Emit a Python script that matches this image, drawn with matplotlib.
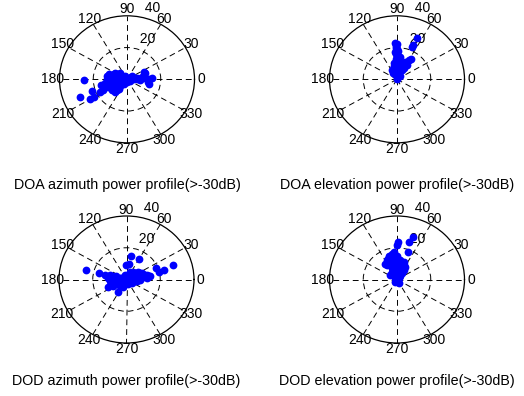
import numpy as np
import matplotlib.pyplot as plt

plt.rcParams['font.family'] = ['Liberation Sans', 'DejaVu Sans']

# =========================================================
# DATA (angle in degrees, radius)
# =========================================================

doa_az_theta = [181, 201.7, 199.3, 209.2, 209.5, 206, 205, 192.8, 4, 5, 23, 21, 2, 346.6, 353, 8, 355,
                159, 153, 174, 180, 189, 197, 212, 229, 230, 207, 162, 180, 187, 236, 270, 333, 0, 45,
                34, 117, 9, 135, 204, 218,
                170.5, 189.5, 168.7, 180, 191.3, 201.8, 166, 180, 194, 206.6, 216.9, 161.6, 198.4,
                213.7, 229.4, 153.4, 180, 225, 153.4, 206.6, 270, 14, 162.3, 150.3, 197.1,
                11.3, 4, 9.5, 5.2, 2.2]
doa_az_r = [25.3, 30.2, 21.7, 24.8, 22.6, 18, 15.6, 16.1, 5.8, 8.8, 11, 11.5, 14.7, 13.7, 12.8, 10, 8,
            8.5, 6.7, 10, 12, 13.2, 10.4, 9.4, 10.6, 7.8, 4.5, 3.2, 6, 8.1, 3.6, 2, 2.2, 4, 1.4,
            3.6, 2.2, 6.1, 5.7, 12.1, 11.4,
            12.2, 12.2, 10.2, 10, 10.2, 10.8, 8.2, 8, 8.2, 8.9, 10, 6.3, 6.3,
            7.2, 9.2, 4.5, 4, 5.7, 2.2, 2.2, 1, 2.1, 11.5, 8.1, 13.6,
            5.1, 7, 9.1, 11, 13]

doa_el_theta = [92.5, 91.4, 90, 93.4, 88, 92.2, 85.2, 95.4, 86.8, 101.3, 85.2, 96.3, 80.5, 90, 90,
                76, 73.3, 65.6, 59.7, 55.8, 56.3, 60.3, 68.2, 116.6, 103.2, 83.9, 122, 53,
                65.6, 66.1, 66.3,
                90, 91.4, 88.4, 91.8, 90, 90, 90, 83.3, 96.7, 81.9, 100.3, 77.5, 99.5,
                69.4, 66, 61.4, 63.4, 63.4, 79.7, 108.4, 101.3]
doa_el_r = [23, 21, 19, 17, 15, 13, 12, 10.5, 9, 7.6, 6, 4.5, 3, 1.5, 0.5,
            8.2, 10.4, 12.1, 13.9, 15.1, 10.8, 8.1, 5.4, 6.7, 8.7, 14.1, 4.7, 2.5,
            28.8, 23.7, 22.4,
            22, 20, 18, 16, 14, 11, 10, 8.6, 8.6, 7.1, 5.6, 4.6, 3,
            8.5, 9.8, 12.5, 11.2, 6.7, 11.2, 6.3, 10.2]

dod_az_theta = [166, 80, 59.7, 81, 92.5, 21.7, 15, 18.1, 14.3,
                166, 167, 204.4, 175, 192.5, 166, 203, 180, 238, 225, 162, 225, 0, 63, 333, 45,
                14, 39, 18, 35.5, 17, 24, 8.5, 15, 5, 8.7, 349, 356, 68, 108, 248, 288,
                163.3, 185.7, 173.7, 180, 161.6, 198.4, 191.3, 166, 206.6, 225, 180, 225, 0,
                26.6, 0, 36.9, 33.7, 8.1, 26.6, 16.7, 14, 8.1, 326.3, 350.5, 51.3, 206.6]
dod_az_r = [24.8, 15.1, 15, 10.1, 9, 18.9, 23.3, 28.9, 20.1,
            16.5, 13.3, 12.1, 11, 9.2, 8.2, 7.6, 6, 9.4, 5.7, 3.2, 2.8, 0.5, 2.2, 2.2, 4.2,
            4.1, 6.4, 6.3, 8.6, 8.4, 9.8, 10.1, 11.4, 12, 13.2, 5.1, 8, 5.4, 3.2, 5.4, 3.2,
            10.4, 10.05, 9.06, 8, 6.3, 6.3, 5.1, 4.1, 4.5, 4.2, 2, 1.4, 1,
            2.2, 3, 5, 7.2, 7.1, 8.9, 10.4, 12.4, 14.1, 3.6, 6.1, 6.4, 8.9]

dod_el_theta = [70.4, 72.8, 69.1, 88.6, 90, 112.5,
                106.7, 102, 125, 114.4, 99.5, 90, 82.2, 95.7, 73.3, 58, 56.3, 76, 113.2, 98,
                78.7, 53, 143, 116.6, 90, 45, 135, 270, 297, 236, 45, 102.5, 70, 95,
                116.6, 108.4, 123.7, 114, 110, 90, 80.5, 90, 82.4, 69.4, 66, 108.4, 90, 63.4,
                108.4, 63.4, 90, 121, 95.7, 100.6, 109.7, 90]
dod_el_r = [28.5, 24.4, 18.5, 23.9, 21.9, 14.1,
            15.7, 14.3, 12.2, 12.1, 12.2, 13, 11.1, 10.05, 10.4, 9.4, 7.2, 8.2, 7.6, 7.1,
            5.1, 5, 5, 4.5, 3, 1.4, 1.4, 1, 2.2, 1.8, 2.8, 9.2, 11.7, 17.1,
            13.4, 12.6, 10.8, 9.8, 11.7, 11, 12.2, 9, 7.6, 8.5, 9.8, 6.3, 5, 4.5,
            3.2, 2.2, 0.5, 5.8, 15.1, 16.3, 14.9, 15]

titles = ["DOA azimuth power profile(>-30dB)", "DOA elevation power profile(>-30dB)",
          "DOD azimuth power profile(>-30dB)", "DOD elevation power profile(>-30dB)"]

angle_ticks = list(range(0, 360, 30))
r_ticks = [20, 40]
rmax = 40

# =========================================================
# FIGURE
# =========================================================

fig = plt.figure(figsize=(5.24, 3.96), dpi=100)

W, H = 524, 396
rad_x, rad_y = 67.5, 63.5
centers = [(127, 79.3), (397, 79.3), (126.5, 279.5), (397, 279.5)]
title_y = [185, 185, 381, 381]
data = [(doa_az_theta, doa_az_r), (doa_el_theta, doa_el_r),
        (dod_az_theta, dod_az_r), (dod_el_theta, dod_el_r)]

dash = (0, (6, 4))

for k in range(4):
    cx, cy = centers[k]
    ax = fig.add_axes([(cx - rad_x) / W, (H - cy - rad_y) / H,
                       2 * rad_x / W, 2 * rad_y / H], projection="polar")
    ax.set_aspect("auto")
    ax.set_rlim(0, rmax)
    ax.set_thetagrids(angle_ticks, labels=[""] * len(angle_ticks))
    ax.set_rgrids([20], labels=[""])
    ax.grid(True, color="k", linestyle=dash, linewidth=0.7)
    ax.spines["polar"].set_color("k")
    ax.spines["polar"].set_linewidth(0.9)
    ax.tick_params(length=0)

    th, r = data[k]
    ax.plot(np.deg2rad(th), r, "o", color="#0000ff", ms=5.6, mew=0, zorder=5,
            clip_on=False)

    # angle labels
    for a in angle_ticks:
        ax.text(np.deg2rad(a), rmax * 1.1, str(a), ha="center", va="center",
                fontsize=10, clip_on=False)

    # radial labels
    for rt in r_ticks:
        ax.text(np.deg2rad(82), rt + 1, "  " + str(rt), ha="left", va="bottom",
                fontsize=10, clip_on=False)

    fig.text(cx / W, 1 - title_y[k] / H, titles[k], ha="center", va="center",
             fontsize=10.3)

plt.savefig("out.png", dpi=100)
